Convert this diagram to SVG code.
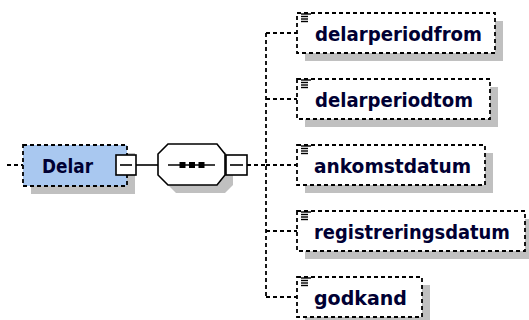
<svg xmlns="http://www.w3.org/2000/svg" width="529" height="320" viewBox="0 0 529 320">
<style>
.shadow{fill:#c0c0c0;stroke:none}
.el{fill:#ffffff;stroke:#000000;stroke-width:1.8;stroke-dasharray:4 3}
.root{fill:#a9c8f0;stroke:#000000;stroke-width:1.8;stroke-dasharray:4 3}
.solid{fill:none;stroke:#000000;stroke-width:1.6}
.dash{fill:none;stroke:#000000;stroke-width:1.8;stroke-dasharray:4 3}
.box{fill:#ffffff;stroke:#000000;stroke-width:1.6}
.lbl{font-family:"DejaVu Sans","Liberation Sans",sans-serif;font-weight:bold;font-size:19.5px;fill:#000033}
.ic{stroke:#000000;stroke-width:1.4}
</style>
<rect width="529" height="320" fill="#ffffff"/>
<g id="connectors">
<line class="dash" x1="7" y1="165" x2="23" y2="165"/>
<line class="solid" x1="136" y1="165" x2="158" y2="165"/>
<line class="dash" x1="247" y1="165" x2="270" y2="165"/>
<line class="dash" x1="266" y1="33" x2="266" y2="297"/>
<line class="dash" x1="266" y1="33" x2="297" y2="33"/>
<line class="dash" x1="266" y1="99" x2="297" y2="99"/>
<line class="dash" x1="266" y1="165" x2="297" y2="165"/>
<line class="dash" x1="266" y1="231" x2="297" y2="231"/>
<line class="dash" x1="266" y1="297" x2="297" y2="297"/>
</g>
<g id="Delar">
<rect class="shadow" x="31" y="153" width="104" height="41"/>
<rect class="root" x="23" y="145" width="104" height="41"/>
<text class="lbl" x="42" y="173" textLength="51" lengthAdjust="spacingAndGlyphs">Delar</text>
<rect class="box" x="116" y="155" width="20" height="20"/>
<line class="solid" x1="120" y1="165" x2="132" y2="165"/>
</g>
<g id="sequence">
<polygon class="shadow" points="176,152 225,152 233,162 233,185 225,193 176,193 166,183 166,162"/>
<polygon class="box" points="168,144 217,144 225,154 225,175 217,185 168,185 158,175 158,154"/>
<line class="solid" x1="168" y1="165" x2="215" y2="165"/>
<rect x="179.5" y="162" width="6" height="6" fill="#000000"/>
<rect x="189" y="162" width="6" height="6" fill="#000000"/>
<rect x="198.5" y="162" width="6" height="6" fill="#000000"/>
<rect class="box" x="226" y="155" width="21" height="20"/>
<line class="solid" x1="230" y1="165" x2="243" y2="165"/>
</g>
<g id="delarperiodfrom">
<rect class="shadow" x="305" y="21" width="198" height="40"/>
<rect class="el" x="297" y="13" width="198" height="40"/>
<g class="ic"><line x1="301" y1="14" x2="311" y2="14"/><line x1="301" y1="16.5" x2="308" y2="16.5"/><line x1="301" y1="19" x2="308" y2="19"/><line x1="301" y1="21.5" x2="308" y2="21.5"/></g>
<text class="lbl" x="315" y="41" textLength="167" lengthAdjust="spacingAndGlyphs">delarperiodfrom</text>
</g>
<g id="delarperiodtom">
<rect class="shadow" x="305" y="87" width="193" height="40"/>
<rect class="el" x="297" y="79" width="193" height="40"/>
<g class="ic"><line x1="301" y1="80" x2="311" y2="80"/><line x1="301" y1="82.5" x2="308" y2="82.5"/><line x1="301" y1="85" x2="308" y2="85"/><line x1="301" y1="87.5" x2="308" y2="87.5"/></g>
<text class="lbl" x="315" y="107" textLength="158" lengthAdjust="spacingAndGlyphs">delarperiodtom</text>
</g>
<g id="ankomstdatum">
<rect class="shadow" x="305" y="153" width="188" height="40"/>
<rect class="el" x="297" y="145" width="188" height="40"/>
<g class="ic"><line x1="301" y1="146" x2="311" y2="146"/><line x1="301" y1="148.5" x2="308" y2="148.5"/><line x1="301" y1="151" x2="308" y2="151"/><line x1="301" y1="153.5" x2="308" y2="153.5"/></g>
<text class="lbl" x="314" y="173" textLength="157" lengthAdjust="spacingAndGlyphs">ankomstdatum</text>
</g>
<g id="registreringsdatum">
<rect class="shadow" x="305" y="219" width="224" height="40"/>
<rect class="el" x="297" y="211" width="228" height="40"/>
<g class="ic"><line x1="301" y1="212" x2="311" y2="212"/><line x1="301" y1="214.5" x2="308" y2="214.5"/><line x1="301" y1="217" x2="308" y2="217"/><line x1="301" y1="219.5" x2="308" y2="219.5"/></g>
<text class="lbl" x="314" y="239" textLength="196" lengthAdjust="spacingAndGlyphs">registreringsdatum</text>
</g>
<g id="godkand">
<rect class="shadow" x="305" y="285" width="125" height="35"/>
<rect class="el" x="297" y="277" width="125" height="40"/>
<g class="ic"><line x1="301" y1="278" x2="311" y2="278"/><line x1="301" y1="280.5" x2="308" y2="280.5"/><line x1="301" y1="283" x2="308" y2="283"/><line x1="301" y1="285.5" x2="308" y2="285.5"/></g>
<text class="lbl" x="314" y="305" textLength="93" lengthAdjust="spacingAndGlyphs">godkand</text>
</g>
</svg>
